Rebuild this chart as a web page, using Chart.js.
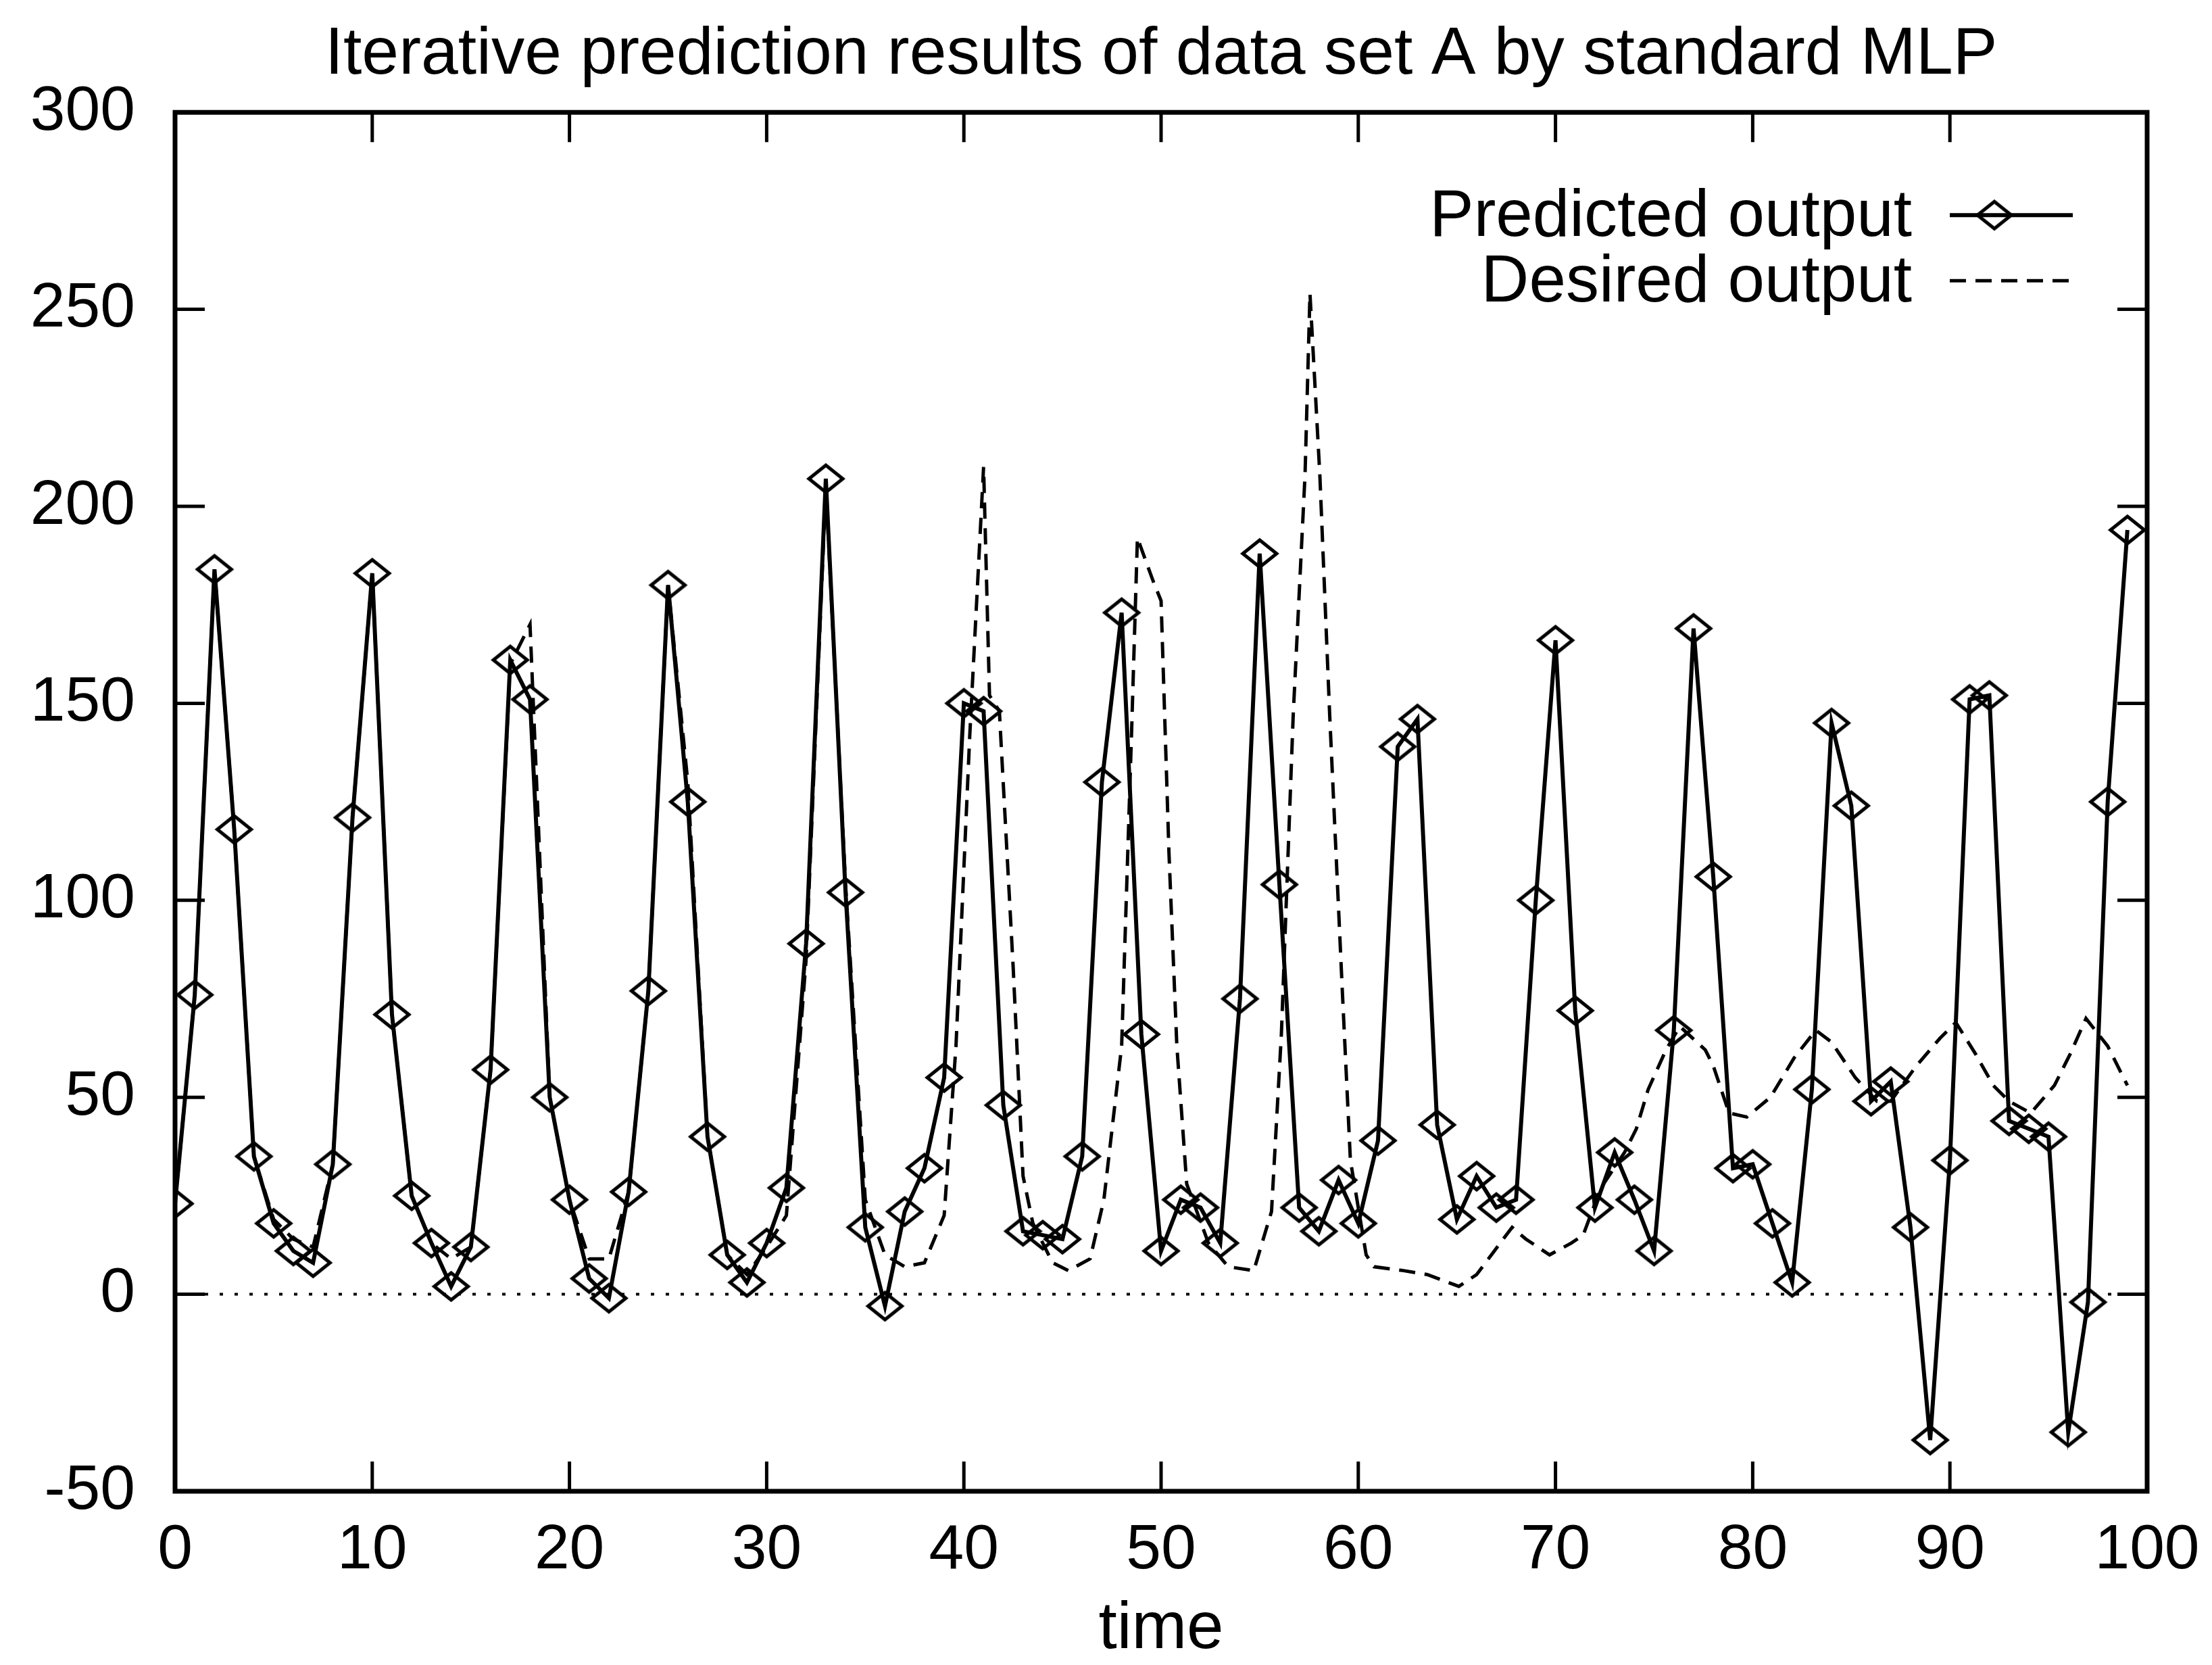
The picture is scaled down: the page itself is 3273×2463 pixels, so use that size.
<!DOCTYPE html>
<html>
<head>
<meta charset="utf-8">
<title>Iterative prediction results of data set A by standard MLP</title>
<script src="https://cdn.jsdelivr.net/npm/chart.js@4/dist/chart.umd.min.js"></script>
<style>
   html, body { margin: 0; padding: 0; background: #fff; }
   canvas { display: block; }
</style>
</head>
<body>
<canvas id="chart" width="3273" height="2463"></canvas>
<script>
const titleText = "Iterative prediction results of data set A by standard MLP"
const xTicks = [0, 10, 20, 30, 40, 50, 60, 70, 80, 90, 100]
const yTicks = [-50, 0, 50, 100, 150, 200, 250, 300]

// predicted output, one value per time step 0..99
const predicted = [
   23, 76, 184, 118, 35, 18, 11, 8, 33, 121,
   183, 71, 25, 13, 2, 12, 57, 161, 151, 50,
   24, 4, -1, 26, 77, 180, 125, 40, 10, 3,
   13, 27, 89, 207, 102, 17, -3, 21, 32, 55,
   150, 148, 48, 16, 15, 14, 35, 130, 173, 66,
   11, 24, 22, 13, 75, 188, 104, 22, 16, 29,
   18, 39, 139, 146, 43, 19, 30, 22, 24, 100,
   166, 72, 22, 36, 24, 11, 67, 169, 106, 32,
   33, 18, 3, 52, 145, 124, 49, 54, 17, -37,
   34, 151, 152, 44, 42, 40, -35, -2, 125, 194
]

// desired output
const desiredTime = [
   0, 1, 2, 3, 4, 5, 6, 7, 8, 9,
   10, 11, 12, 13, 14, 15, 16, 17, 18, 19,
   20, 21, 22, 23, 24, 25, 26, 27, 28, 29,
   30, 31, 32, 33, 34, 35, 36, 37, 38, 39,
   39.6, 40.3, 41, 41.3, 41.8, 42.5, 43, 43.5, 44.5, 45.3,
   46.4, 47.1, 48, 48.5, 48.8, 49.6, 50, 50.4, 50.8, 51.3,
   52.4, 53.4, 54.7, 55.6, 56.1, 56.7, 57.3, 57.55, 58.05, 58.55,
   59.2, 59.6, 60.4, 60.8, 62.3, 63.5, 65.1, 66, 66.9, 67.8,
   68.5, 69.7, 70.8, 71.4, 72.3, 73.5, 74.1, 74.7, 75.6, 76.3,
   77.6, 78, 78.8, 79.7, 80.9, 82.1, 83.2, 84, 85.2, 86.3,
   87, 88.3, 89.5, 90.3, 91.3, 92.2, 93, 94.1, 95.3, 96.1,
   96.9, 98, 99
]
const desiredValue = [
   23, 76, 184, 118, 35, 19, 14, 12, 33, 121,
   183, 71, 25, 13, 9, 12, 57, 160, 170, 50,
   24, 9, 9, 26, 77, 180, 130, 40, 10, 5,
   12, 20, 85, 205, 104, 24, 10, 7, 8, 20,
   63, 142, 210, 152, 148, 83, 30, 18, 8, 6,
   9, 24, 63, 142, 192, 181, 176, 112, 63, 28,
   13, 7, 6, 21, 66, 147, 208, 254, 208, 147,
   76, 34, 10, 7, 6, 5, 2, 5, 11, 17,
   14, 10, 13, 15, 27, 36, 42, 52, 62, 68,
   62, 58, 46, 45, 50, 60, 67, 64, 55, 49,
   49, 58, 65, 69, 61, 53, 49, 46, 53, 61,
   70, 63, 53
]

const fontFamily = "'Liberation Sans', Arial, Helvetica, sans-serif"
Chart.defaults.font.family = fontFamily
Chart.defaults.color = "#000"

function makeDiamond(w, h, lw) {
   const c = document.createElement("canvas")
   c.width = w + lw * 2
   c.height = h + lw * 2
   const ctx = c.getContext("2d")
   ctx.strokeStyle = "#000"
   ctx.lineWidth = lw
   ctx.beginPath()
   ctx.moveTo(c.width / 2, lw)
   ctx.lineTo(c.width - lw, c.height / 2)
   ctx.lineTo(c.width / 2, c.height - lw)
   ctx.lineTo(lw, c.height / 2)
   ctx.closePath()
   ctx.stroke()
   return c
}
const diamond = makeDiamond(50, 40, 5)

const frame = {
   id: "frame",
   beforeDatasetsDraw(chart) {
      const { ctx, chartArea: a, scales: { y } } = chart
      const y0 = y.getPixelForValue(0)
      ctx.save()
      ctx.strokeStyle = "#000"
      ctx.lineWidth = 4
      ctx.setLineDash([5, 17])
      ctx.beginPath()
      ctx.moveTo(a.left, y0)
      ctx.lineTo(a.right, y0)
      ctx.stroke()
      ctx.restore()
   },
   afterDatasetsDraw(chart) {
      const { ctx, chartArea: a, scales: { x, y } } = chart
      const len = 44
      ctx.save()
      ctx.strokeStyle = "#000"
      ctx.lineWidth = 5
      ctx.beginPath()
      x.ticks.forEach(t => {
         const px = x.getPixelForValue(t.value)
         ctx.moveTo(px, a.bottom); ctx.lineTo(px, a.bottom - len)
         ctx.moveTo(px, a.top); ctx.lineTo(px, a.top + len)
      })
      y.ticks.forEach(t => {
         const py = y.getPixelForValue(t.value)
         ctx.moveTo(a.left, py); ctx.lineTo(a.left + len, py)
         ctx.moveTo(a.right, py); ctx.lineTo(a.right - len, py)
      })
      ctx.stroke()
      ctx.lineWidth = 7
      ctx.strokeRect(a.left, a.top, a.right - a.left, a.bottom - a.top)
      ctx.restore()
   }
}

const sideLegend = {
   id: "sideLegend",
   afterDraw(chart) {
      const { ctx, chartArea: a } = chart
      ctx.save()
      ctx.font = `98px ${fontFamily}`
      ctx.fillStyle = "#000"
      ctx.strokeStyle = "#000"
      ctx.textAlign = "right"
      ctx.textBaseline = "alphabetic"
      chart.data.datasets.forEach((ds, i) => {
         const base = a.top + 183 + i * 97
         const ly = base - 31
         ctx.fillText(ds.label, a.right - 348, base)
         ctx.lineWidth = ds.borderWidth
         ctx.setLineDash(ds.borderDash || [])
         ctx.beginPath()
         ctx.moveTo(a.right - 292, ly)
         ctx.lineTo(a.right - 110, ly)
         ctx.stroke()
         ctx.setLineDash([])
         if (ds.pointStyle instanceof HTMLCanvasElement) {
            const p = ds.pointStyle
            ctx.drawImage(p, a.right - 226 - p.width / 2, ly - p.height / 2)
         }
      })
      ctx.restore()
   }
}

const canvas = document.getElementById("chart")
const chart = new Chart(canvas, {
   type: "line",
   data: {
      datasets: [
         {
            label: "Predicted output",
            data: predicted.map((v, t) => ({ x: t, y: v })),
            borderColor: "#000",
            borderWidth: 6,
            tension: 0,
            pointStyle: diamond,
            pointRadius: 27,
            pointHoverRadius: 27
         },
         {
            label: "Desired output",
            data: desiredTime.map((t, i) => ({ x: t, y: desiredValue[i] })),
            borderColor: "#000",
            borderWidth: 5,
            borderDash: [24, 14],
            tension: 0,
            pointRadius: 0
         }
      ]
   },
   options: {
      responsive: false,
      animation: false,
      devicePixelRatio: 1,
      layout: { padding: { left: 0, right: 96, top: 0, bottom: 0 } },
      plugins: {
         legend: { display: false },
         tooltip: { enabled: false },
         title: {
            display: true,
            text: titleText,
            fullSize: false,
            color: "#000",
            font: { size: 98.5, weight: "normal", lineHeight: 1.2 },
            padding: { top: 23, bottom: 25 }
         }
      },
      scales: {
         x: {
            type: "linear",
            min: 0,
            max: 100,
            grid: { display: false, drawTicks: false },
            border: { display: false },
            afterBuildTicks: (scale) => { scale.ticks = xTicks.map(v => ({ value: v })) },
            afterFit: (scale) => {
               scale.height = 257
               scale.paddingLeft = 0
               scale.paddingRight = 0
            },
            ticks: {
               color: "#000",
               font: { size: 93, lineHeight: 1.2 },
               padding: 33,
               maxRotation: 0,
               autoSkip: false
            },
            title: {
               display: true,
               text: "time",
               color: "#000",
               font: { size: 98, lineHeight: 1 },
               padding: { top: 0, bottom: 3 }
            }
         },
         y: {
            type: "linear",
            min: -50,
            max: 300,
            grid: { display: false, drawTicks: false },
            border: { display: false },
            afterBuildTicks: (scale) => { scale.ticks = yTicks.map(v => ({ value: v })) },
            afterFit: (scale) => { scale.width = 259 },
            ticks: {
               color: "#000",
               font: { size: 93 },
               padding: 59
            }
         }
      }
   },
   plugins: [frame, sideLegend]
})
</script>
</body>
</html>
